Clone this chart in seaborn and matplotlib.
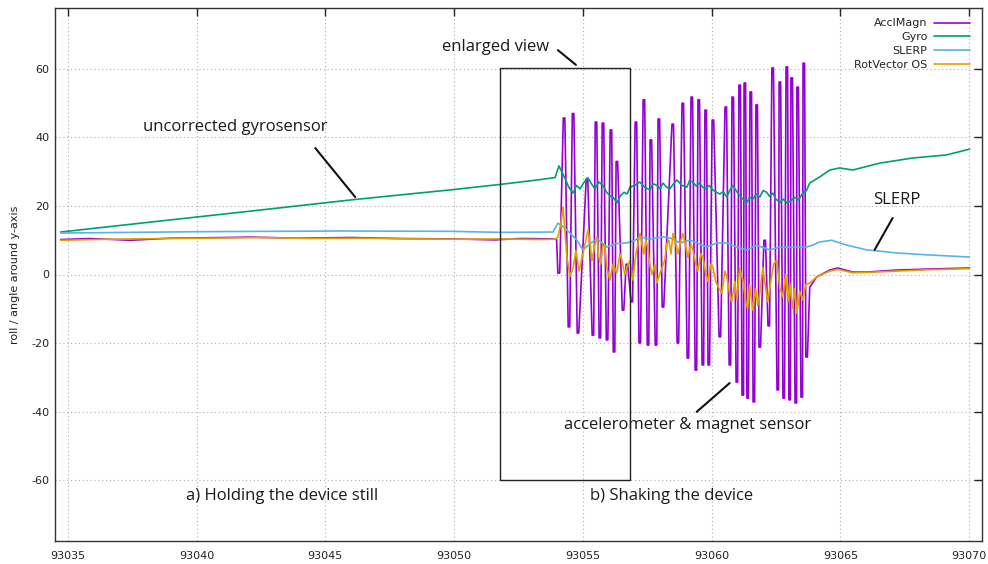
import numpy as np
import pandas as pd
import matplotlib
matplotlib.use("Agg")
import matplotlib.pyplot as plt
import seaborn as sns
from matplotlib.patches import Rectangle
from matplotlib.lines import Line2D

# ---------------- data ----------------
accl_t = [93034.72, 93035.88, 93037.43, 93038.98, 93040.15, 93042.09, 93044.03, 93045.97,
          93047.91, 93049.85, 93051.59, 93052.56, 93053.84, 93053.98,
          93054.03, 93054.10,
          93054.24, 93054.30, 93054.43, 93054.49, 93054.59, 93054.65, 93054.78, 93054.84,
          93055.13, 93055.19, 93055.36, 93055.42, 93055.48, 93055.54, 93055.63, 93055.69,
          93055.75, 93055.81, 93055.91, 93055.97, 93056.06, 93056.12, 93056.18, 93056.24,
          93056.29, 93056.35, 93056.53, 93056.59, 93056.68, 93056.74, 93056.87, 93056.93,
          93057.03, 93057.09, 93057.18, 93057.24, 93057.34, 93057.40, 93057.50, 93057.56,
          93057.61, 93057.67, 93057.81, 93057.87, 93057.92, 93057.98, 93058.08, 93058.14,
          93058.46, 93058.52, 93058.66, 93058.72, 93058.85, 93058.91, 93059.05, 93059.11,
          93059.20, 93059.26, 93059.36, 93059.42, 93059.47, 93059.53, 93059.63, 93059.69,
          93059.74, 93059.80, 93059.86, 93059.92, 93060.02, 93060.08, 93060.29, 93060.35,
          93060.52, 93060.58, 93060.68, 93060.74, 93060.79, 93060.85, 93060.95, 93061.01,
          93061.06, 93061.12, 93061.18, 93061.24, 93061.26, 93061.32, 93061.37, 93061.43,
          93061.49, 93061.55, 93061.61, 93061.67, 93061.72, 93061.78, 93061.84, 93061.90,
          93062.03, 93062.09, 93062.19, 93062.25, 93062.34, 93062.40, 93062.54, 93062.60,
          93062.62, 93062.68, 93062.77, 93062.83, 93062.89, 93062.95, 93063.00, 93063.06,
          93063.08, 93063.14, 93063.24, 93063.30, 93063.31, 93063.37, 93063.47, 93063.53,
          93063.55, 93063.61, 93063.66, 93063.72,
          93063.81, 93064.08, 93064.59, 93064.90, 93065.48, 93066.02, 93067.18, 93068.46, 93070.02]
accl_v = [10.2, 10.5, 10.0, 10.6, 10.7, 10.9, 10.6, 10.8,
          10.5, 10.4, 10.1, 10.5, 10.4, 10.2,
          0.4, 0.4,
          45.7, 45.7, -15.3, -15.3, 47.0, 47.0, -17.1, -17.1,
          28.0, 28.0, -17.7, -17.7, 44.5, 44.5, -18.5, -18.5,
          44.2, 44.2, -19.1, -19.1, 42.2, 42.2, -22.6, -22.6,
          33.0, 33.0, -10.4, -10.4, 3.0, 3.0, -8.0, -8.0,
          44.5, 44.5, -20.0, -20.0, 51.0, 51.0, -20.6, -20.6,
          39.3, 39.3, -20.6, -20.6, 45.4, 45.4, -9.5, -9.5,
          43.9, 43.9, -20.0, -20.0, 50.0, 50.0, -24.4, -24.4,
          51.8, 51.8, -27.9, -27.9, 51.0, 51.0, -26.4, -26.4,
          48.0, 48.0, -26.4, -26.4, 45.1, 45.1, -18.2, -18.2,
          48.9, 48.9, -26.4, -26.4, 51.8, 51.8, -31.4, -31.4,
          55.3, 55.3, -35.2, -35.2, 55.9, 55.9, -36.1, -36.1,
          53.3, 53.3, -37.2, -37.2, 49.5, 49.5, -21.2, -21.2,
          10.0, 10.0, -15.0, -15.0, 60.3, 60.3, -33.7, -33.7,
          56.2, 56.2, -36.1, -36.1, 60.6, 60.6, -36.6, -36.6,
          57.4, 57.4, -37.5, -37.5, 54.7, 54.7, -35.8, -35.8,
          61.7, 61.7, -24.1, -24.1,
          -3.7, -0.7, 1.3, 1.9, 0.7, 0.7, 1.3, 1.6, 1.9]

gyro_t = [93034.72, 93038.21, 93042.09, 93046.15, 93049.85, 93051.79, 93053.34, 93053.92,
          93054.07, 93054.18, 93054.31, 93054.45, 93054.62, 93054.75, 93054.89, 93055.05,
          93055.20, 93055.33, 93055.47, 93055.62, 93055.78, 93055.92, 93056.05, 93056.18,
          93056.32, 93056.46, 93056.60, 93056.72, 93056.83, 93057.02, 93057.21, 93057.40,
          93057.60, 93057.73, 93057.87, 93058.00, 93058.11, 93058.25, 93058.38, 93058.52,
          93058.65, 93058.85, 93059.04, 93059.15, 93059.27, 93059.40, 93059.54, 93059.65,
          93059.77, 93059.90, 93060.05, 93060.18, 93060.32, 93060.45, 93060.59, 93060.70,
          93060.82, 93060.95, 93061.09, 93061.22, 93061.36, 93061.48, 93061.60, 93061.74,
          93061.87, 93062.00, 93062.14, 93062.25, 93062.37, 93062.50, 93062.65, 93062.78,
          93062.92, 93063.07, 93063.23, 93063.38, 93063.54, 93063.68, 93063.81, 93064.20,
          93064.59, 93064.97, 93065.48, 93066.52, 93067.80, 93069.12, 93070.02]
gyro_v = [12.4, 15.3, 18.5, 21.9, 24.7, 26.3, 27.7, 28.3,
          31.7, 30.0, 28.0, 25.5, 23.8, 26.0, 25.0, 27.0,
          28.2, 26.5, 25.0, 27.0, 26.0, 24.0, 23.0, 22.5,
          20.9, 23.0, 24.0, 23.5, 25.5, 26.0, 27.0, 25.5,
          24.7, 26.5, 26.0, 25.0, 26.7, 25.5, 25.0, 26.5,
          27.6, 26.0, 25.5, 27.5, 27.0, 25.8, 26.7, 25.5,
          25.0, 26.0, 24.7, 24.0, 23.5, 24.2, 22.6, 24.5,
          26.0, 24.5, 23.0, 22.0, 20.9, 22.5, 22.0, 23.5,
          22.6, 24.5, 24.0, 22.8, 23.8, 22.0, 21.0, 22.0,
          20.9, 21.5, 22.5, 21.8, 23.8, 24.5, 26.7, 28.5,
          30.5, 31.1, 30.5, 32.5, 34.0, 34.9, 36.6]

slerp_t = [93034.72, 93040.15, 93045.58, 93049.85, 93051.79, 93053.84, 93054.03, 93054.23,
           93054.50, 93054.77, 93055.00, 93055.28, 93055.55, 93055.94, 93056.25, 93056.71,
           93057.02, 93057.21, 93057.60, 93058.11, 93058.46, 93058.77, 93059.16, 93059.81,
           93060.20, 93060.59, 93060.98, 93061.36, 93061.75, 93062.26, 93062.65, 93063.15,
           93063.69, 93063.93, 93064.20, 93064.66, 93065.24, 93066.02, 93067.18, 93068.46,
           93070.02]
slerp_v = [12.1, 12.5, 12.7, 12.6, 12.3, 12.4, 15.0, 14.0,
           12.1, 10.0, 7.2, 9.0, 10.5, 8.0, 9.0, 9.2,
           10.0, 11.0, 10.3, 11.0, 10.5, 9.2, 10.0, 8.0,
           9.2, 9.2, 8.0, 7.2, 8.5, 7.2, 8.0, 8.0,
           8.0, 8.6, 9.5, 10.0, 8.6, 7.2, 6.3, 5.7,
           5.1]

rot_t = [93034.72, 93036.66, 93038.60, 93040.54, 93042.47, 93044.41, 93046.35, 93048.29,
         93050.23, 93051.79, 93053.34, 93053.92,
         93054.03, 93054.15, 93054.23, 93054.31, 93054.38, 93054.50, 93054.62, 93054.73,
         93054.85, 93055.00, 93055.20, 93055.28, 93055.35, 93055.47, 93055.55, 93055.62,
         93055.70, 93055.78, 93055.86, 93055.93, 93056.05, 93056.17, 93056.32, 93056.44,
         93056.52, 93056.63, 93056.71, 93056.83, 93056.94, 93057.06, 93057.22, 93057.29,
         93057.37, 93057.45, 93057.53, 93057.60, 93057.68, 93057.80, 93057.87, 93058.03,
         93058.18, 93058.26, 93058.34, 93058.42, 93058.50, 93058.61, 93058.69, 93058.81,
         93058.88, 93059.00, 93059.08, 93059.19, 93059.27, 93059.39, 93059.46, 93059.58,
         93059.66, 93059.78, 93059.85, 93059.97, 93060.05, 93060.16, 93060.28, 93060.40,
         93060.51, 93060.59, 93060.71, 93060.78, 93060.90, 93060.98, 93061.09, 93061.21,
         93061.33, 93061.40, 93061.48, 93061.60, 93061.71, 93061.79, 93061.87, 93061.99,
         93062.06, 93062.18, 93062.26, 93062.41, 93062.53, 93062.65, 93062.76, 93062.88,
         93062.96, 93063.03, 93063.15, 93063.23, 93063.31, 93063.42, 93063.54, 93063.65,
         93063.81, 93064.08, 93064.59, 93064.90, 93065.48, 93066.02, 93067.18, 93068.46,
         93070.02]
rot_v = [10.0, 10.3, 10.5, 10.6, 10.8, 10.5, 10.6, 10.4,
         10.3, 10.4, 10.2, 10.3,
         11.0, 15.0, 19.7, 12.0, 5.0, -0.5, 2.0, 7.0,
         1.0, 6.0, 13.0, 9.0, 4.0, 9.0, 11.0, 5.0,
         3.0, 9.0, 8.0, 2.0, -1.6, 3.0, 0.4, 6.0,
         4.0, 0.0, 2.2, 4.0, -1.6, 6.0, 12.0, 9.0,
         6.0, 10.0, 7.2, 3.0, 0.0, 3.0, -2.5, 1.0,
         4.2, 9.0, 10.0, 6.0, 12.0, 9.0, 6.0, 10.0,
         12.0, 8.0, 5.0, 9.0, 7.2, 3.0, 1.0, 6.0,
         5.1, 0.0, -2.0, 3.0, 2.2, -2.0, -4.0, -5.4,
         1.0, -0.7, -6.0, -8.0, -2.0, -7.4, 2.0, -1.6,
         -8.0, -10.0, -3.0, -10.4, -4.0, -9.0, -5.4, 2.0,
         -2.0, -8.0, -3.7, 3.0, 4.2, -4.0, -6.5, 0.0,
         -8.0, -2.5, -10.0, -4.0, -11.3, -5.0, -7.4, -3.0,
         -2.5, -0.7, 1.0, 1.5, 0.5, 0.6, 1.0, 1.4,
         1.7]

series_names = ["AcclMagn", "Gyro", "SLERP", "RotVector OS"]
x_ticks = [93035, 93040, 93045, 93050, 93055, 93060, 93065, 93070]
y_ticks = [-60, -40, -20, 0, 20, 40, 60]

colors = {"AcclMagn": "#9400d3", "Gyro": "#009e73", "SLERP": "#56b4e9", "RotVector OS": "#e69f00"}

df = pd.concat([
    pd.DataFrame({"t": accl_t, "v": accl_v, "series": "AcclMagn"}),
    pd.DataFrame({"t": gyro_t, "v": gyro_v, "series": "Gyro"}),
    pd.DataFrame({"t": slerp_t, "v": slerp_v, "series": "SLERP"}),
    pd.DataFrame({"t": rot_t, "v": rot_v, "series": "RotVector OS"}),
], ignore_index=True)

# ---------------- plotting ----------------
sns.set_theme(style="white")
plt.rcParams['font.family'] = ['DejaVu Sans']

fig = plt.figure(figsize=(9.88, 5.64), dpi=100)
ax = fig.add_axes([55/988, 23/564, 927/988, 533/564])

sns.lineplot(data=df, x="t", y="v", hue="series", hue_order=series_names,
             palette=colors, sort=False, estimator=None, linewidth=1.2, ax=ax, legend=False)

ax.set_xlim(93034.5, 93070.5)
ax.set_ylim(-77.8, 77.8)
ax.set_xticks(x_ticks)
ax.set_xticklabels([str(v) for v in x_ticks])
ax.set_yticks(y_ticks)
ax.set_yticklabels([str(v) for v in y_ticks])
ax.grid(True, color="#b0b0b0", linestyle=(0, (1, 2.5)), linewidth=0.8)
ax.tick_params(direction="in", length=6, width=1, top=True, right=True,
               labelsize=8, colors="#222222", pad=4)
ax.tick_params(axis="x", pad=7)
for s in ax.spines.values():
    s.set_color("#333333")
    s.set_linewidth(1.0)
ax.set_xlabel("")
ax.set_ylabel("roll / angle around y-axis", fontsize=8, color="#222222", labelpad=8)

# legend
handles = [Line2D([0], [0], color=colors[n], lw=1.2) for n in series_names]
leg = ax.legend(handles, series_names, loc="upper right", bbox_to_anchor=(0.995, 0.995),
                frameon=False, markerfirst=False, fontsize=8, handlelength=3.2,
                labelspacing=0.35, borderaxespad=0.3, handletextpad=0.6)
for t in leg.get_texts():
    t.set_color("#222222")

# annotations
afont = dict(family="Open Sans", fontsize=12, color="#1a1a1a", ha="center", va="center")
ax.add_patch(Rectangle((93051.79, -60.0), 93056.83 - 93051.79, 60.3 + 60.0,
                       fill=False, edgecolor="#222222", linewidth=1.0, zorder=5))
ax.text(93051.59, 66.4, "enlarged view", **afont)
ax.plot([93054.03, 93054.73], [65.5, 61.2], color="#111111", lw=1.5)
ax.text(93041.51, 43.1, "uncorrected gyrosensor", **afont)
ax.plot([93044.61, 93046.16], [36.9, 22.6], color="#111111", lw=1.5)
ax.text(93067.18, 21.8, "SLERP", **afont)
ax.plot([93067.03, 93066.33], [16.5, 7.2], color="#111111", lw=1.5)
ax.text(93059.07, -43.9, "accelerometer & magnet sensor", **afont)
ax.plot([93059.42, 93060.70], [-40.1, -31.7], color="#111111", lw=1.5)
ax.text(93043.32, -64.7, "a) Holding the device still", **afont)
ax.text(93058.45, -64.7, "b) Shaking the device", **afont)

fig.savefig("out.png", dpi=100)
